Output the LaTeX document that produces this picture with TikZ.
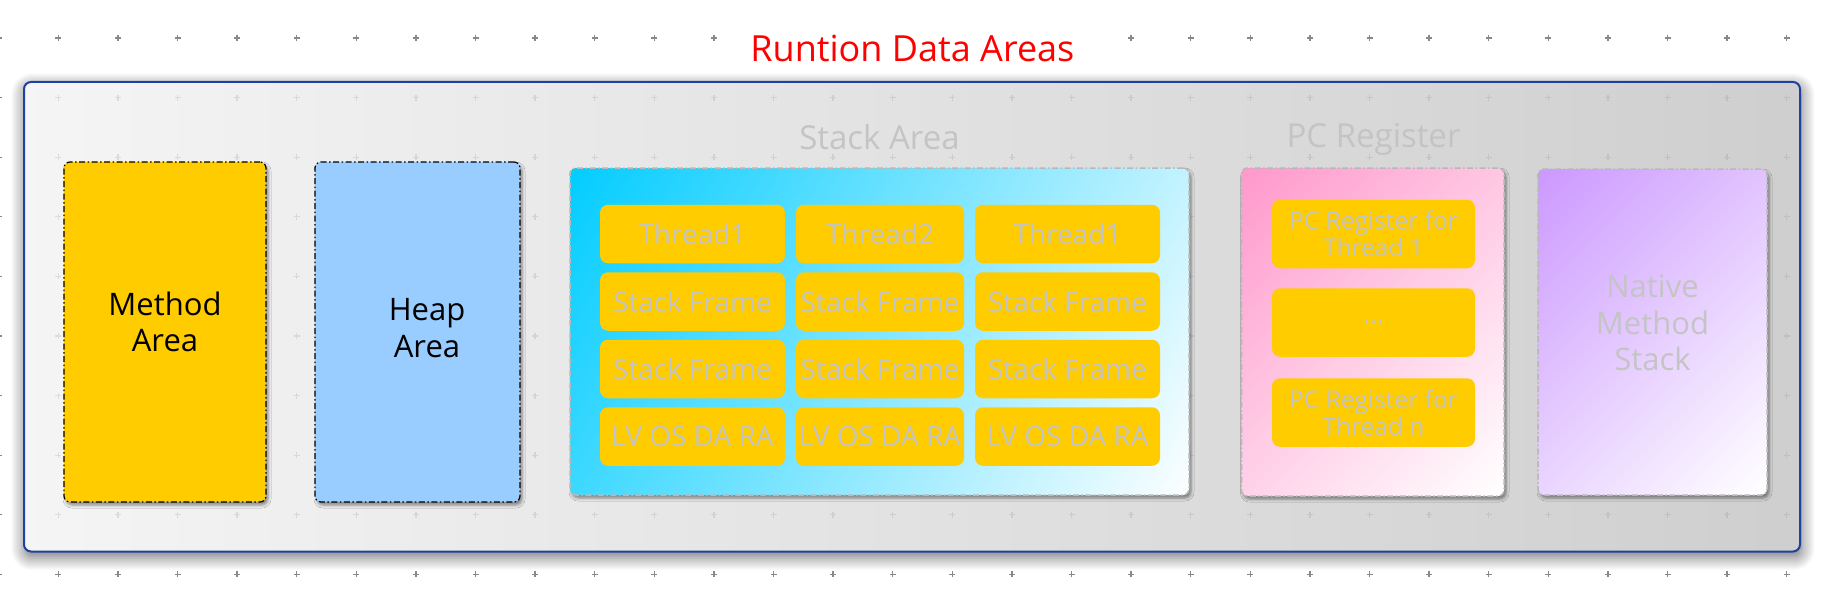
\documentclass[tikz,border=0pt]{standalone}
\usepackage{fontspec}
\setmainfont{Open Sans}
\usetikzlibrary{positioning,shadows.blur}
\definecolor{areaYellow}{RGB}{255,204,0}
\definecolor{heapBlue}{RGB}{153,204,255}
\definecolor{stackCyan}{RGB}{0,204,255}
\definecolor{pcPink}{RGB}{255,153,204}
\definecolor{nativeViolet}{RGB}{204,153,255}
\definecolor{frameBlue}{RGB}{30,64,160}
\definecolor{dimText}{RGB}{196,196,196}
\definecolor{borderGray}{RGB}{184,184,184}
\definecolor{plusGray}{RGB}{136,136,136}
% corner to corner fades
\pgfdeclareverticalshading{stackfade}{100bp}{color(0bp)=(white); color(15bp)=(white); color(85bp)=(stackCyan); color(100bp)=(stackCyan)}
\pgfdeclareverticalshading{pcfade}{100bp}{color(0bp)=(white); color(15bp)=(white); color(85bp)=(pcPink); color(100bp)=(pcPink)}
\pgfdeclareverticalshading{nativefade}{100bp}{color(0bp)=(white); color(15bp)=(white); color(85bp)=(nativeViolet); color(100bp)=(nativeViolet)}

\begin{document}
\begin{tikzpicture}[
    x=1pt, y=-1pt,
    plusmark/.style={draw=plusGray, line width=1.3pt},
    rdaframe/.style={draw=frameBlue, line width=2pt, rounded corners=7pt,
      left color=black!4, right color=black!19,
      minimum width=1776pt, minimum height=469.5pt,
      blur shadow={shadow xshift=1pt, shadow yshift=-5pt, shadow blur radius=14pt,
        shadow blur steps=14, shadow opacity=60}},
    titlelbl/.style={fill=white, text=red, font=\fontsize{36}{40}\selectfont,
      inner xsep=5.5pt, inner ysep=11pt},
    headlbl/.style={text=dimText, font=\fontsize{33}{38}\selectfont, inner sep=0pt},
    bigtxt/.style={font=\fontsize{31}{36.7}\selectfont, align=center, inner sep=0pt},
    areabox/.style={draw=black, line width=1.2pt,
      dash pattern=on 6pt off 2.5pt on 1.5pt off 2.5pt, rounded corners=6pt,
      minimum width=#1, minimum height=340pt,
      blur shadow={shadow xshift=2pt, shadow yshift=-3pt, shadow blur radius=3pt,
        shadow opacity=45}},
    regionbox/.style={draw=borderGray, line width=1.5pt,
      dash pattern=on 6pt off 2.5pt on 1.5pt off 2.5pt, rounded corners=6pt,
      blur shadow={shadow xshift=2pt, shadow yshift=-3pt, shadow blur radius=3pt,
        shadow opacity=45}},
    cell/.style={fill=areaYellow, rounded corners=8pt, text=dimText,
      font=\fontsize{28}{32}\selectfont, inner sep=0pt,
      minimum width=#1, minimum height=58.5pt},
    pccell/.style={fill=areaYellow, rounded corners=8pt, text=dimText,
      font=\fontsize{24.5}{27.4}\selectfont, align=center, inner sep=0pt,
      minimum width=203pt, minimum height=68.5pt},
  ]
    \useasboundingbox (0,0) rectangle (1832,594);

    % grid marks
    \foreach \i in {0,...,30}
      \foreach \j in {0,...,9}
        \draw[plusmark] ({-1.3+59.6*\i},{38+59.6*\j}) +(-3,0) -- +(3,0) +(0,-3) -- +(0,3);

    % runtime data areas frame
    \node[rdaframe] (rda) at (912,316.75) {};
    \foreach \i in {1,...,30}
      \foreach \j in {1,...,8}
        \draw[plusmark, opacity=0.22] ({-1.3+59.6*\i},{38+59.6*\j}) +(-3,0) -- +(3,0) +(0,-3) -- +(0,3);
    \node[titlelbl, anchor=base] (title) at (912.4,61.7) {Runtion Data Areas};

    % method area and heap area
    \node[areabox=202pt, fill=areaYellow] (method) at (165,332) {};
    \node[bigtxt] (method-lbl) at ([yshift=10pt]method.center) {Method\\Area};
    \node[areabox=205pt, fill=heapBlue] (heap) at (417.5,332) {};
    \node[bigtxt] (heap-lbl) at ([xshift=9.5pt,yshift=4pt]heap.center) {Heap\\Area};

    % stack area
    \node[headlbl, anchor=base] (stack-lbl) at (879.5,149.3) {Stack Area};
    \node[regionbox, minimum width=619pt, minimum height=327pt,
      shade, shading=stackfade, shading angle=60] (stack) at (879.5,331.5) {};
    \node[cell=185pt] (t1) at (692.5,234) {Thread1};
    \node[cell=168pt] (t2) at (880,234) {Thread2};
    \node[cell=185pt] (t3) at (1067.5,234) {Thread1};
    \node[cell=185pt] (t1-sf1) at (692.5,301.5) {Stack Frame};
    \node[cell=168pt] (t2-sf1) at (880,301.5) {Stack Frame};
    \node[cell=185pt] (t3-sf1) at (1067.5,301.5) {Stack Frame};
    \node[cell=185pt] (t1-sf2) at (692.5,369) {Stack Frame};
    \node[cell=168pt] (t2-sf2) at (880,369) {Stack Frame};
    \node[cell=185pt] (t3-sf2) at (1067.5,369) {Stack Frame};
    \node[cell=185pt] (t1-parts) at (692.5,436.5) {LV OS DA RA};
    \node[cell=168pt] (t2-parts) at (880,436.5) {LV OS DA RA};
    \node[cell=185pt] (t3-parts) at (1067.5,436.5) {LV OS DA RA};

    % pc register
    \node[headlbl, anchor=base] (pc-lbl) at (1373.5,147) {PC Register};
    \node[regionbox, minimum width=262.5pt, minimum height=328pt,
      shade, shading=pcfade, shading angle=45] (pc) at (1372.75,332) {};
    \node[pccell] (pc-first) at (1373.5,234) {PC Register for\\Thread 1};
    \node[pccell] (pc-dots) at (1373.5,322.5) {...};
    \node[pccell] (pc-last) at (1373.5,412.5) {PC Register for\\Thread n};

    % native method stack
    \node[regionbox, minimum width=229pt, minimum height=326pt,
      shade, shading=nativefade, shading angle=45] (native) at (1652.5,332) {};
    \node[bigtxt, text=dimText] (native-lbl) at ([yshift=9pt]native.center) {Native\\Method\\Stack};
  \end{tikzpicture}
\end{document}
